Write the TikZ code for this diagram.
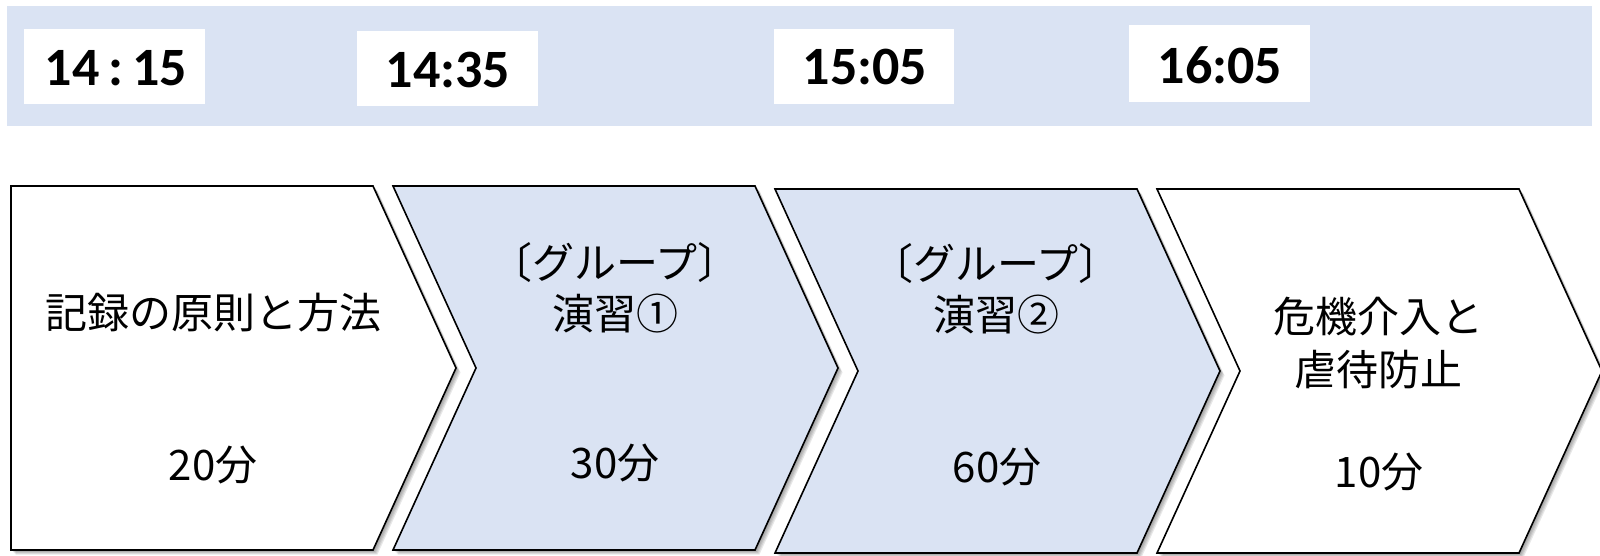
\documentclass[tikz,border=0pt]{standalone}
\usepackage{fontspec}
\setmainfont{Noto Sans CJK JP}
\newfontfamily\timefont{Carlito}
\definecolor{paleblue}{HTML}{DAE3F3}
\begin{document}
\begin{tikzpicture}[x=1pt,y=-1pt,
  chev/.style={draw=black, line width=1.6pt, line join=miter},
  chevfirst/.style={insert path={(0,0) -- (362,0) -- (445,182) -- (362,364) -- (0,364) -- cycle}},
  chevnext/.style={insert path={(0,0) -- (362,0) -- (445,182) -- (362,364) -- (0,364) -- (83,182) -- cycle}},
  shadowlayer/.style={fill=black, fill opacity=0.09, draw=none},
  timebox/.style={fill=white, draw=none},
  timetext/.style={font=\timefont\bfseries\fontsize{54}{62}\selectfont, inner sep=0pt, anchor=center},
  jtext/.style={font=\fontsize{42}{51}\selectfont, align=center, inner sep=0pt, anchor=center}]
\useasboundingbox (0,0) rectangle (1600,555);
\clip (0,0) rectangle (1600,555);
% top band
\fill[paleblue] (7,6) rectangle (1592,126);
\fill[timebox] (24,29) rectangle (205,104);
\fill[timebox] (357,31) rectangle (538,106);
\fill[timebox] (774,29) rectangle (954,104);
\fill[timebox] (1129,25) rectangle (1310,102);
\node[timetext] (t1) at (116,68) {14\,:\,15};
\node[timetext] (t2) at (448,70) {14:35};
\node[timetext] (t3) at (865,67) {15:05};
\node[timetext] (t4) at (1220,65) {16:05};
% chevrons
\begin{scope}[shift={(11,186)}]
  \foreach \s in {1,...,5} \path[shadowlayer, shift={(\s*0.9,\s*0.9)}, chevfirst];
  \path[chev, fill=white, chevfirst];
\end{scope}
\begin{scope}[shift={(393,186)}]
  \foreach \s in {1,...,5} \path[shadowlayer, shift={(\s*0.9,\s*0.9)}, chevnext];
  \path[chev, fill=paleblue, chevnext];
\end{scope}
\begin{scope}[shift={(775,189)}]
  \foreach \s in {1,...,5} \path[shadowlayer, shift={(\s*0.9,\s*0.9)}, chevnext];
  \path[chev, fill=paleblue, chevnext];
\end{scope}
\begin{scope}[shift={(1157,189)}]
  \foreach \s in {1,...,5} \path[shadowlayer, shift={(\s*0.9,\s*0.9)}, chevnext];
  \path[chev, fill=white, chevnext];
\end{scope}
% texts
\node[jtext] (c1a) at (213,313) {記録の原則と方法};
\node[jtext] (c1b) at (213,465) {20分};
\node[jtext] (c2a) at (615,288) {〔グループ〕\\演習①};
\node[jtext] (c2b) at (615,463) {30分};
\node[jtext] (c3a) at (996,289) {〔グループ〕\\演習②};
\node[jtext] (c3b) at (997,467) {60分};
\node[jtext, font=\fontsize{42}{53}\selectfont] (c4a) at (1378,343.5) {危機介入と\\虐待防止};
\node[jtext] (c4b) at (1379,472) {10分};
\end{tikzpicture}
\end{document}
